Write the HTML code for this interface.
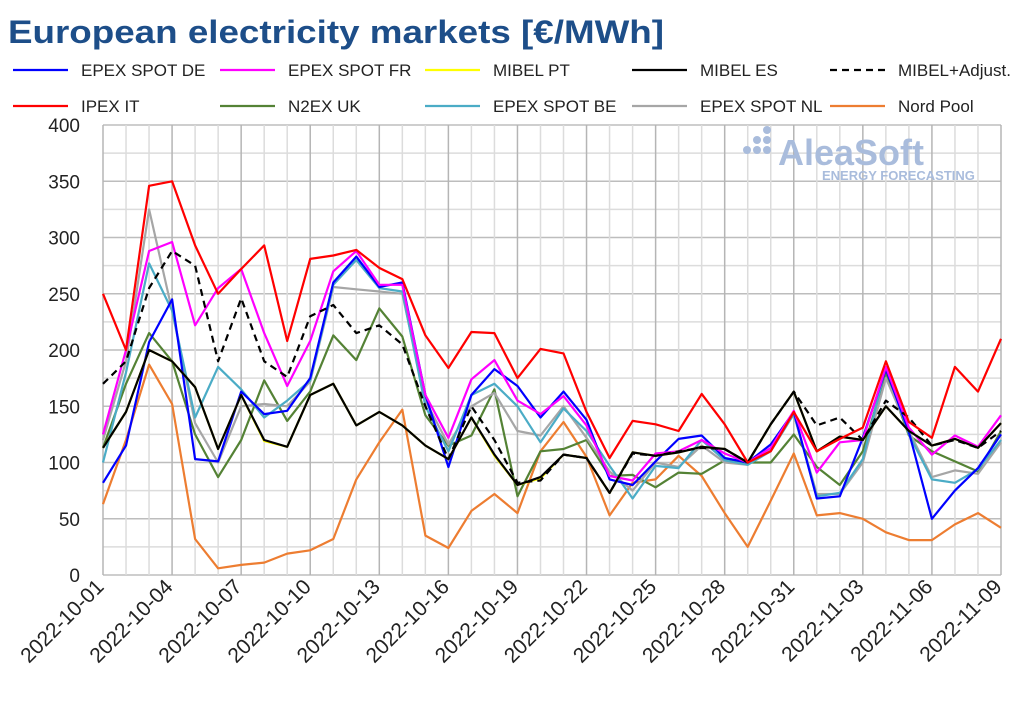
<!DOCTYPE html>
<html><head><meta charset="utf-8"><style>
body{margin:0;background:#fff;width:1024px;height:713px;overflow:hidden;font-family:"Liberation Sans",sans-serif}
</style></head><body>
<svg id="s" width="1024" height="713" xmlns="http://www.w3.org/2000/svg" font-family="Liberation Sans, sans-serif">
<text x="8" y="43" font-size="32" font-weight="bold" fill="#1d4e89" textLength="656" lengthAdjust="spacingAndGlyphs">European electricity markets [€/MWh]</text>
</svg>
<script>
const s=document.getElementById('s');const NS='http://www.w3.org/2000/svg';
function el(t,a,txt){const e=document.createElementNS(NS,t);for(const k in a)e.setAttribute(k,a[k]);if(txt!==undefined)e.textContent=txt;s.appendChild(e);return e;}
const X0=103,X1=1001,Y0=575,Y1=125;
const xp=i=>X0+i*(X1-X0)/39, yp=v=>Y0-(v/400)*(Y0-Y1);
for(let v=0;v<=400;v+=25){el('line',{x1:X0,x2:X1,y1:yp(v),y2:yp(v),stroke:v%50?'#dcdcdc':'#bdbdbd','stroke-width':1.5});}
for(let i=0;i<=39;i++){el('line',{x1:xp(i),x2:xp(i),y1:Y1,y2:Y0,stroke:i%3?'#dcdcdc':'#b5b5b5','stroke-width':1.5});}
for(let v=0;v<=400;v+=50){el('text',{x:80,y:yp(v)+7,'font-size':19,'text-anchor':'end',fill:'#222'},String(v));}
const dates=[];for(let i=0;i<40;i++){const d=new Date(Date.UTC(2022,9,1+i));dates.push(d.toISOString().slice(0,10));}
for(let i=0;i<40;i+=3){const x=xp(i)+2,y=588;el('text',{x:x,y:y,'font-size':21,'text-anchor':'end',fill:'#222',transform:`rotate(-45 ${x} ${y})`},dates[i]);}
const g=[[747,150,4],[757,150,4],[767,150,4],[757,140,4],[767,140,4],[767,130,4]];
g.forEach(c=>el('circle',{cx:c[0],cy:c[1],r:c[2],fill:'#a9bcdc'}));
el('text',{x:778,y:165,'font-size':36,'font-weight':'bold',fill:'#a9bcdc'},'AleaSoft');
el('text',{x:822,y:180,'font-size':13,'font-weight':'bold',fill:'#a9bcdc'},'ENERGY FORECASTING');
const D={
no:[63,120,187,152,32,6,9,11,19,22,32,85,118,147,35,24,57,72,55,110,136,105,53,82,85,106,88,55,25,66,108,53,55,50,38,31,31,45,55,42],
uk:[113,170,215,190,125,87,120,173,137,163,213,191,237,212,142,115,124,165,70,110,112,120,88,89,78,91,90,102,100,100,125,96,80,110,180,124,110,101,92,128],
nl:[120,190,325,235,135,100,150,152,150,172,256,254,252,250,155,116,150,162,128,124,150,122,92,75,100,96,115,100,98,112,143,72,72,100,175,128,87,93,90,118],
be:[100,180,277,235,140,185,165,140,155,173,258,280,255,252,150,110,160,170,150,118,148,128,97,68,97,95,120,102,98,110,143,70,73,103,185,125,85,82,94,120],
de:[82,115,207,245,103,101,163,143,146,175,260,283,256,260,160,96,160,183,168,140,163,138,85,80,101,121,124,104,100,116,145,68,70,122,183,127,50,75,95,125],
fr:[125,200,288,296,222,255,272,215,168,208,270,288,258,258,160,122,174,191,155,143,159,133,88,84,108,110,120,108,100,113,146,91,118,120,185,131,107,124,114,142],
pt:[113,145,200,190,167,112,160,119,114,160,170,133,145,133,115,103,140,106,80,86,107,104,73,109,106,109,114,112,100,134,163,110,123,120,150,128,115,121,113,135],
adj:[170,190,255,288,275,190,246,190,176,230,240,215,222,205,150,103,150,120,82,84,107,104,73,108,106,110,113,112,100,134,163,133,140,120,155,140,115,120,113,128],
es:[113,145,200,190,167,112,160,120,114,160,170,133,145,133,115,103,140,107,80,87,107,104,73,109,106,109,114,112,100,134,163,110,123,120,150,128,115,121,113,135],
it:[250,200,346,350,293,250,272,293,208,281,284,289,273,263,213,184,216,215,175,201,197,145,104,137,134,128,161,134,100,110,145,110,121,131,190,136,122,185,163,210]};
const st={no:['#ed7d31'],uk:['#548235'],nl:['#a6a6a6'],be:['#4bacc6'],de:['#0000ff'],fr:['#ff00ff'],pt:['#ffff00'],adj:['#000','7 5'],es:['#000'],it:['#ff0000']};
for(const k in D){const a={points:D[k].map((v,i)=>xp(i).toFixed(1)+','+yp(v).toFixed(1)).join(' '),fill:'none',stroke:st[k][0],'stroke-width':2.2,'stroke-linejoin':'round'};if(st[k][1])a['stroke-dasharray']=st[k][1];el('polyline',a);}
const L=[[13,70,'de','EPEX SPOT DE'],[220,70,'fr','EPEX SPOT FR'],[425,70,'pt','MIBEL PT'],[632,70,'es','MIBEL ES'],[830,70,'adj','MIBEL+Adjust.'],
[13,106,'it','IPEX IT'],[220,106,'uk','N2EX UK'],[425,106,'be','EPEX SPOT BE'],[632,106,'nl','EPEX SPOT NL'],[830,106,'no','Nord Pool']];
L.forEach(l=>{const a={x1:l[0],x2:l[0]+55,y1:l[1],y2:l[1],stroke:st[l[2]][0],'stroke-width':2.2};if(st[l[2]][1])a['stroke-dasharray']=st[l[2]][1];el('line',a);
el('text',{x:l[0]+68,y:l[1]+6,'font-size':17,fill:'#222'},l[3]);});
</script>
</body></html>
